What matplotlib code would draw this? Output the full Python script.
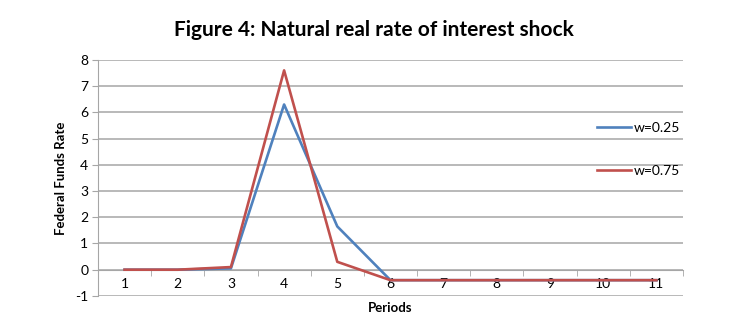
import matplotlib.pyplot as plt

# Data
periods = [1, 2, 3, 4, 5, 6, 7, 8, 9, 10, 11]
w025 = [0.0, 0.0, 0.05, 6.3, 1.65, -0.4, -0.4, -0.4, -0.4, -0.4, -0.4]
w075 = [0.0, 0.0, 0.1, 7.6, 0.3, -0.4, -0.4, -0.4, -0.4, -0.4, -0.4]
yticks = [-1, 0, 1, 2, 3, 4, 5, 6, 7, 8]

plt.rcParams['font.family'] = ['Lato', 'DejaVu Sans']
plt.rcParams['axes.unicode_minus'] = False

fig = plt.figure(figsize=(7.48, 3.31), dpi=100)
ax = fig.add_axes([0.131, 0.106, 0.782, 0.713])

ax.plot(periods, w025, color='#4F81BD', lw=1.9, label='w=0.25', zorder=3)
ax.plot(periods, w075, color='#C0504D', lw=1.9, label='w=0.75', zorder=3)

ax.set_xlim(0.5, 11.5)
ax.set_ylim(-1, 8)
ax.set_yticks(yticks)
ax.yaxis.grid(True, color='#a6a6a6', lw=1.1)
ax.set_axisbelow(True)

# category axis crosses at zero, tick marks between categories
ax.spines['bottom'].set_position(('data', 0))
ax.spines['bottom'].set_color('#a6a6a6')
ax.spines['left'].set_color('#a6a6a6')
ax.spines['top'].set_visible(False)
ax.spines['right'].set_visible(False)
ax.set_xticks(periods)
ax.set_xticks([p + 0.5 for p in periods[:-1]] + [0.5, 11.5], minor=True)
ax.tick_params(axis='x', which='major', length=0, pad=6, labelsize=10)
ax.tick_params(axis='x', which='minor', length=4, color='#a6a6a6', direction='out')
ax.tick_params(axis='y', length=4, color='#a6a6a6', labelsize=10, pad=3)

ax.set_ylabel('Federal Funds Rate', fontsize=9.5, fontweight='bold', labelpad=6)
ax.text(0.5, -0.025, 'Periods', transform=ax.transAxes, ha='center', va='top',
        fontsize=9.5, fontweight='bold')

fig.suptitle('Figure 4: Natural real rate of interest shock', fontsize=15,
             fontweight='bold', x=0.5, y=0.94)

ax.legend(loc='upper right', bbox_to_anchor=(1.016, 0.79), frameon=False,
          fontsize=10, handlelength=2.4, handletextpad=0.2, labelspacing=2.2)

fig.savefig('out.png', dpi=100)
